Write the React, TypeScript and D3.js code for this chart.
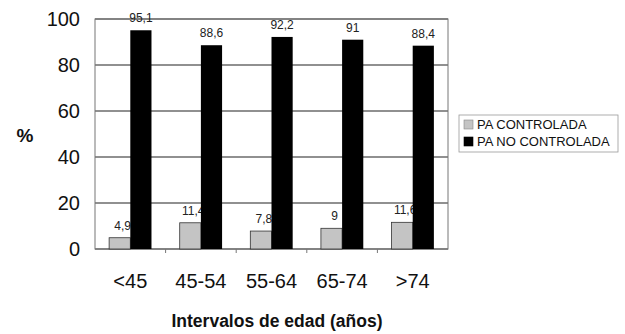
import React from "react";
import * as d3 from "d3";

const categories = ["<45", "45-54", "55-64", "65-74", ">74"];
const controlada = [4.9, 11.4, 7.8, 9, 11.6];
const noControlada = [95.1, 88.6, 92.2, 91, 88.4];
const yTicks = [0, 20, 40, 60, 80, 100];
const seriesNames = ["PA CONTROLADA", "PA NO CONTROLADA"];

const W = 625;
const H = 334;
const plot = { left: 95, right: 448, top: 19, bottom: 249 };
const FONT = "'Liberation Sans', Arial, sans-serif";
const GRAY = "#c4c4c4";

const fmt = (v: number) => String(v).replace(".", ",");

export default function App() {
  const x = d3
    .scaleBand<string>()
    .domain(categories)
    .range([plot.left, plot.right])
    .paddingInner(0)
    .paddingOuter(0);
  const y = d3.scaleLinear().domain([0, 100]).range([plot.bottom, plot.top]);
  const bw = x.bandwidth() * 0.3;
  const center = (c: string) => x(c)! + x.bandwidth() / 2;

  return (
    <svg
      width={W}
      height={H}
      style={{ position: "absolute", left: 0, top: 0, background: "#fff" }}
      fontFamily={FONT}
    >
      {/* gridlines */}
      {yTicks.map((t) => (
        <line
          key={"g" + t}
          x1={plot.left}
          x2={plot.right}
          y1={y(t)}
          y2={y(t)}
          stroke="#222"
          strokeWidth={1.2}
        />
      ))}
      {/* plot frame */}
      <rect
        x={plot.left}
        y={plot.top}
        width={plot.right - plot.left}
        height={plot.bottom - plot.top}
        fill="none"
        stroke="#777"
        strokeWidth={1}
      />
      {/* y tick labels */}
      {yTicks.map((t) => (
        <text
          key={"yt" + t}
          x={80}
          y={y(t)}
          dy="0.36em"
          textAnchor="end"
          fontSize={20}
          fill="#111"
        >
          {t}
        </text>
      ))}
      <text x={25} y={135} dy="0.36em" textAnchor="middle" fontSize={19} fontWeight="bold" fill="#111">
        %
      </text>
      {/* x-axis ticks between groups */}
      {categories.slice(1).map((c) => (
        <line
          key={"xt" + c}
          x1={x(c)!}
          x2={x(c)!}
          y1={plot.bottom}
          y2={plot.bottom + 4}
          stroke="#777"
        />
      ))}
      {/* controlled bars with their labels (labels sit under the neighbouring black bar) */}
      {categories.map((c, i) => (
        <g key={"c" + c}>
          <rect
            x={center(c) - bw}
            y={y(controlada[i])}
            width={bw}
            height={plot.bottom - y(controlada[i])}
            fill={GRAY}
            stroke="#333"
            strokeWidth={0.8}
          />
          <text
            x={center(c) - bw / 2 + 3}
            y={y(controlada[i]) - 8}
            textAnchor="middle"
            fontSize={12}
            fill="#222"
          >
            {fmt(controlada[i])}
          </text>
        </g>
      ))}
      {/* uncontrolled bars */}
      {categories.map((c, i) => (
        <g key={"n" + c}>
          <rect
            x={center(c)}
            y={y(noControlada[i])}
            width={bw}
            height={plot.bottom - y(noControlada[i])}
            fill="#000"
          />
          <text
            x={center(c) + bw / 2}
            y={y(noControlada[i]) - 8}
            textAnchor="middle"
            fontSize={12}
            fill="#222"
          >
            {fmt(noControlada[i])}
          </text>
          <text x={center(c)} y={288} textAnchor="middle" fontSize={20} fill="#111">
            {c}
          </text>
        </g>
      ))}
      {/* axis title */}
      <text x={277} y={327} textAnchor="middle" fontSize={17.5} fontWeight="bold" fill="#111">
        Intervalos de edad (años)
      </text>
      {/* legend */}
      <g>
        <rect x={459} y={115} width={159} height={37} fill="#fff" stroke="#999" strokeWidth={0.8} />
        {seriesNames.map((s, i) => (
          <g key={s}>
            <rect
              x={464}
              y={120 + i * 17}
              width={9}
              height={9}
              fill={i === 0 ? GRAY : "#000"}
              stroke={i === 0 ? "#888" : "#000"}
              strokeWidth={0.6}
            />
            <text x={477} y={124.5 + i * 17} dy="0.36em" fontSize={13} fill="#111">
              {s}
            </text>
          </g>
        ))}
      </g>
    </svg>
  );
}
